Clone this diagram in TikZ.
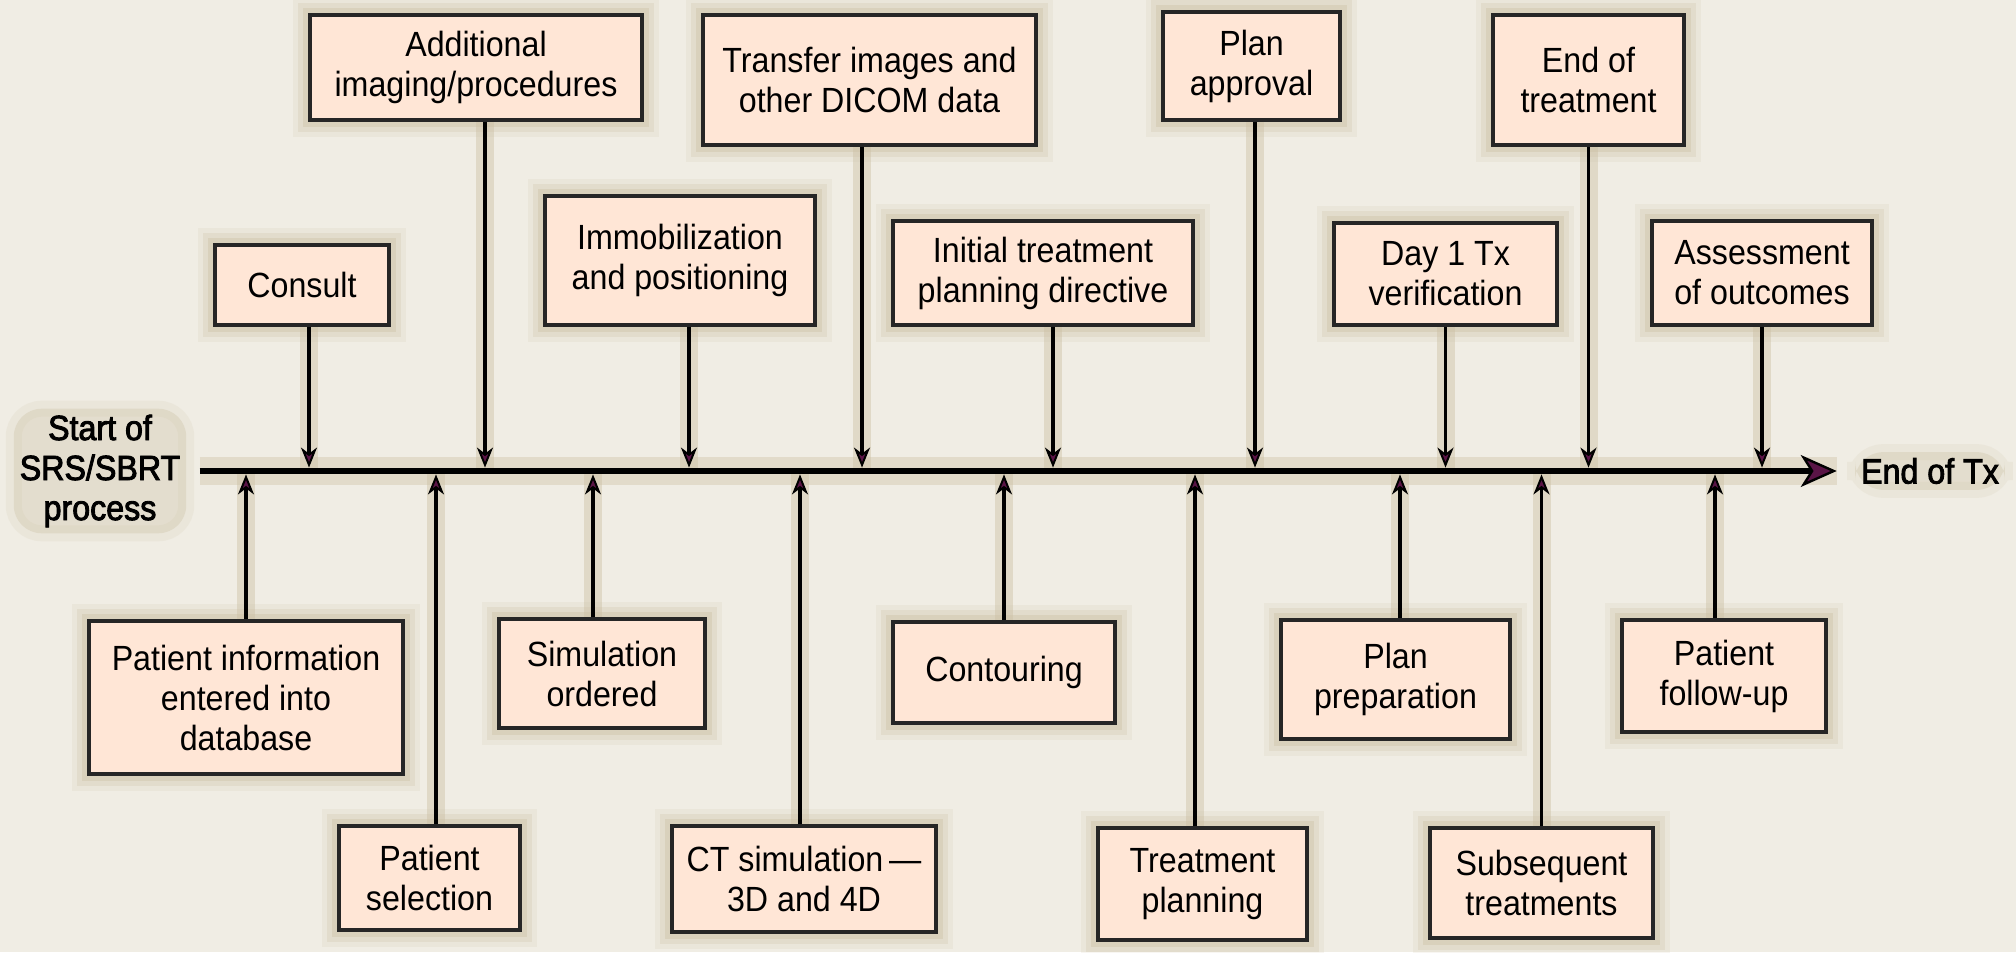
\documentclass[tikz,border=0pt]{standalone}
\usepackage{fontspec}
\setmainfont{Liberation Sans}[FakeStretch=0.92]
\newfontfamily\heavyfont{Liberation Sans}[FakeStretch=0.92,FakeBold=2.5]
\usetikzlibrary{arrows.meta}
\definecolor{bg}{HTML}{F0EDE4}
\definecolor{glow}{HTML}{CDC1A5}
\definecolor{boxfill}{HTML}{FFE6D6}
\definecolor{tipfill}{HTML}{5A1446}
\tikzset{
  stage/.style={draw=black!85, line width=2pt, fill=boxfill, align=center, inner sep=0pt,
    preaction={draw=glow, line width=17pt, opacity=.15},
    preaction={draw=glow, line width=12pt, opacity=.25},
    preaction={draw=glow, line width=7pt, opacity=.4}},
  terminus/.style={font=\fontsize{17.5pt}{20pt}\heavyfont, align=center, inner sep=3pt,
    rounded corners=14pt, fill=glow, fill opacity=.35, text opacity=1,
    preaction={draw=glow, line width=8pt, draw opacity=.15}},
  branch/.style={line width=1.6pt, shorten >=1.7pt,
    -{Stealth[length=10pt,width=8pt,inset=3pt,line width=1pt,fill=tipfill]},
    preaction={draw=glow, line width=9pt, opacity=.45, -}},
  spine/.style={line width=3.3pt,
    -{Stealth[length=18pt,width=16pt,inset=5pt,line width=1.2pt,fill=tipfill]},
    preaction={draw=glow, line width=14pt, opacity=.4, -}}
}
\begin{document}
\begin{tikzpicture}[x=0.5pt, y=-0.5pt, font=\fontsize{17.5pt}{20pt}\selectfont]
  \useasboundingbox (0,0) rectangle (2016,952);
  \fill[bg] (0,0) rectangle (2016,952);
  \coordinate (axis) at (0,471);
  \node[terminus] (start) at (100,471) {Start of\\SRS/SBRT\\process};
  \node[terminus] (finish) at (1930,471) {End of Tx};
  \draw[spine, shorten <=6.5pt, shorten >=9pt] (start) -- (finish);
  \node[stage, minimum width=87pt, minimum height=40pt] (consult) at (302,285) {Consult};
  \node[stage, minimum width=166pt, minimum height=52.5pt] (imaging) at (476,67.5) {Additional\\imaging/procedures};
  \node[stage, minimum width=135pt, minimum height=64.5pt] (immob) at (680,260.5) {Immobilization\\and positioning};
  \node[stage, minimum width=166.5pt, minimum height=65pt] (transfer) at (869.5,80) {Transfer images and\\other DICOM data};
  \node[stage, minimum width=150pt, minimum height=52pt] (directive) at (1043,273) {Initial treatment\\planning directive};
  \node[stage, minimum width=88.5pt, minimum height=54pt] (approval) at (1251.5,66) {Plan\\approval};
  \node[stage, minimum width=111.5pt, minimum height=51pt] (dayone) at (1445.5,274) {Day 1 Tx\\verification};
  \node[stage, minimum width=95.5pt, minimum height=65pt] (endtreat) at (1588.5,80) {End of\\treatment};
  \node[stage, minimum width=110pt, minimum height=52pt] (assess) at (1762,273) {Assessment\\of outcomes};
  \node[stage, minimum width=157pt, minimum height=76.5pt] (patinfo) at (246,697.5) {Patient information\\entered into\\database};
  \node[stage, minimum width=90.5pt, minimum height=52pt] (select) at (429.5,878) {Patient\\selection};
  \node[stage, minimum width=103pt, minimum height=54.5pt] (simorder) at (602,673.5) {Simulation\\ordered};
  \node[stage, minimum width=132pt, minimum height=53pt] (ctsim) at (804,879) {CT simulation\,---\\3D and 4D};
  \node[stage, minimum width=111pt, minimum height=50.5pt] (contour) at (1004,672.5) {Contouring};
  \node[stage, minimum width=104.5pt, minimum height=56pt] (planning) at (1202.5,884) {Treatment\\planning};
  \node[stage, minimum width=114.5pt, minimum height=59.5pt] (prep) at (1395.5,679.5) {Plan\\preparation};
  \node[stage, minimum width=111.5pt, minimum height=55pt] (subseq) at (1541.5,883) {Subsequent\\treatments};
  \node[stage, minimum width=102pt, minimum height=56pt] (followup) at (1724,676) {Patient\\follow-up};
  \draw[branch] ([xshift=3.5pt]consult.south) -- ([xshift=3.5pt]consult.south |- axis);
  \draw[branch] ([xshift=4.5pt]imaging.south) -- ([xshift=4.5pt]imaging.south |- axis);
  \draw[branch] ([xshift=4.5pt]immob.south) -- ([xshift=4.5pt]immob.south |- axis);
  \draw[branch] ([xshift=-3.75pt]transfer.south) -- ([xshift=-3.75pt]transfer.south |- axis);
  \draw[branch] ([xshift=5pt]directive.south) -- ([xshift=5pt]directive.south |- axis);
  \draw[branch] ([xshift=1.75pt]approval.south) -- ([xshift=1.75pt]approval.south |- axis);
  \draw[branch] (dayone.south) -- (dayone.south |- axis);
  \draw[branch] (endtreat.south) -- (endtreat.south |- axis);
  \draw[branch] (assess.south) -- (assess.south |- axis);
  \draw[branch] (patinfo.north) -- (patinfo.north |- axis);
  \draw[branch] ([xshift=3.25pt]select.north) -- ([xshift=3.25pt]select.north |- axis);
  \draw[branch] ([xshift=-4.5pt]simorder.north) -- ([xshift=-4.5pt]simorder.north |- axis);
  \draw[branch] ([xshift=-2pt]ctsim.north) -- ([xshift=-2pt]ctsim.north |- axis);
  \draw[branch] (contour.north) -- (contour.north |- axis);
  \draw[branch] ([xshift=-3.75pt]planning.north) -- ([xshift=-3.75pt]planning.north |- axis);
  \draw[branch] ([xshift=2.25pt]prep.north) -- ([xshift=2.25pt]prep.north |- axis);
  \draw[branch] (subseq.north) -- (subseq.north |- axis);
  \draw[branch] ([xshift=-4.5pt]followup.north) -- ([xshift=-4.5pt]followup.north |- axis);
\end{tikzpicture}
\end{document}
